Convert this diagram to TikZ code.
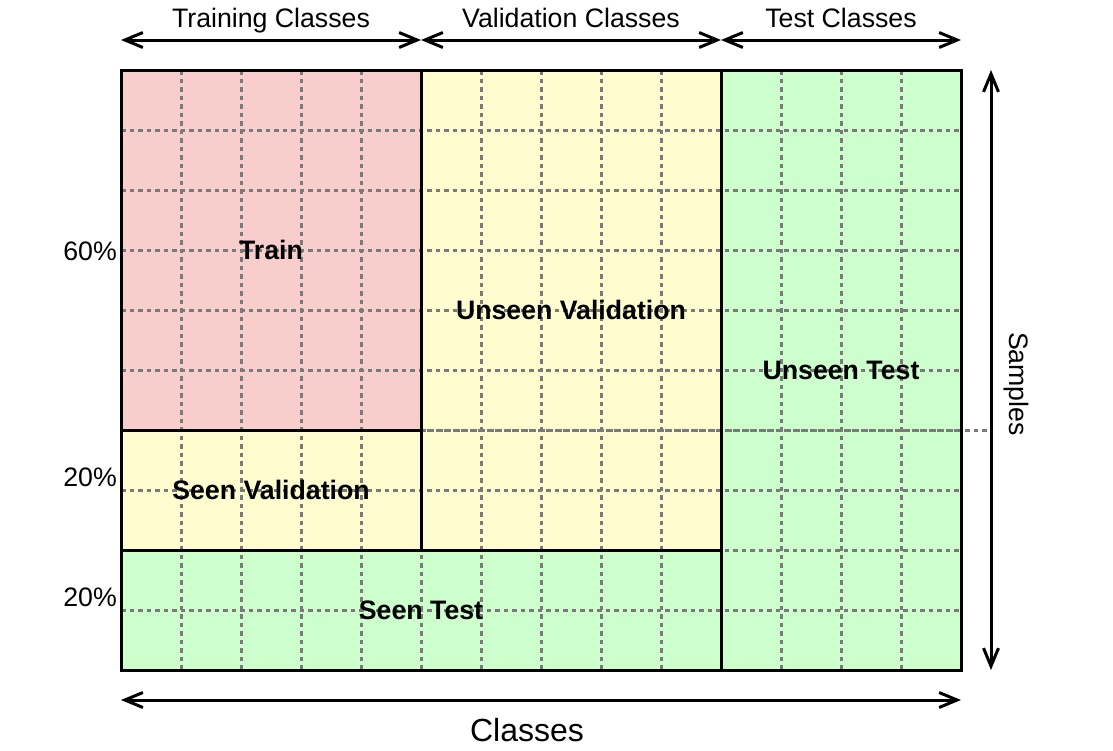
\documentclass[tikz,border=0pt]{standalone}
\usepackage{fontspec}
\setmainfont{Liberation Sans}
\usetikzlibrary{arrows.meta}
\definecolor{trainred}{HTML}{F8CECC}
\definecolor{valyellow}{HTML}{FFFDD0}
\definecolor{testgreen}{HTML}{CCFFCC}
\definecolor{gridgray}{HTML}{7A7A7A}
\begin{document}
\begin{tikzpicture}[x=1pt,y=-1pt,
  region/.style={rectangle,inner sep=0pt,outer sep=0pt,line width=3pt,font=\fontsize{26.7}{32}\selectfont\bfseries},
  gridline/.style={gridgray,line width=3pt,dash pattern=on 4.5pt off 4pt},
  dimarrow/.style={line width=3pt,{Straight Barb[length=18pt,width=15pt,line width=3pt]}-{Straight Barb[length=18pt,width=15pt,line width=3pt]}},
  lbl/.style={inner sep=0pt,font=\fontsize{26.7}{32}\selectfont},
  biglbl/.style={inner sep=0pt,font=\fontsize{32}{38}\selectfont}]
\useasboundingbox (0,0) rectangle (1113,750);
% region fills
\node[region,fill=trainred,minimum width=300pt,minimum height=360pt] (train) at (271,250) {};
\node[region,fill=valyellow,minimum width=300pt,minimum height=120pt] (seenval) at (271,490) {};
\node[region,fill=valyellow,minimum width=300pt,minimum height=480pt] (unval) at (571,310) {};
\node[region,fill=testgreen,minimum width=600pt,minimum height=120pt] (seentest) at (421,610) {};
\node[region,fill=testgreen,minimum width=240pt,minimum height=600pt] (untest) at (841,370) {};
% grid
\foreach \x in {181,241,...,901} \draw[gridline] (\x,70) -- (\x,670);
\foreach \y in {130,190,...,610} \draw[gridline] (121,\y) -- (961,\y);
\coordinate (gl) at (421,430);
\coordinate (gr) at (990,430);
\draw[gridline] (gl) -- (gr);
% borders
\foreach \n in {train,seenval,unval,seentest,untest}
  \draw[line width=3pt] (\n.north west) rectangle (\n.south east);
% labels of regions
\node[region] (ltrain) at (train.center) {Train};
\node[region] (lseenval) at (seenval.center) {Seen Validation};
\node[region] (lunval) at (unval.center) {Unseen Validation};
\node[region] (lseentest) at (seentest.center) {Seen Test};
\node[region] (luntest) at (untest.center) {Unseen Test};
% percentages
\node[lbl,anchor=east] (p60) at (117,251) {60\%};
\node[lbl,anchor=east] (p20a) at (117,477) {20\%};
\node[lbl,anchor=east] (p20b) at (117,597) {20\%};
% top arrows
\coordinate (t0) at (121,40);
\coordinate (t1) at (421,40);
\coordinate (t2) at (721,40);
\coordinate (t3) at (961,40);
\draw[dimarrow] (t0) -- (t1);
\draw[dimarrow] (t1) -- (t2);
\draw[dimarrow] (t2) -- (t3);
\node[lbl,anchor=base] (ltc) at (271,27.5) {Training Classes};
\node[lbl,anchor=base] (lvc) at (571,27.5) {Validation Classes};
\node[lbl,anchor=base] (lsc) at (841,27.5) {Test Classes};
% right arrow
\coordinate (r0) at (991,70);
\coordinate (r1) at (991,670);
\draw[dimarrow] (r0) -- (r1);
\node[lbl,rotate=-90] (lsamples) at (1016,384) {Samples};
% bottom arrow
\coordinate (b0) at (121,700);
\coordinate (b1) at (961,700);
\draw[dimarrow] (b0) -- (b1);
\node[biglbl] (lclasses) at (527,730) {Classes};
\end{tikzpicture}
\end{document}
